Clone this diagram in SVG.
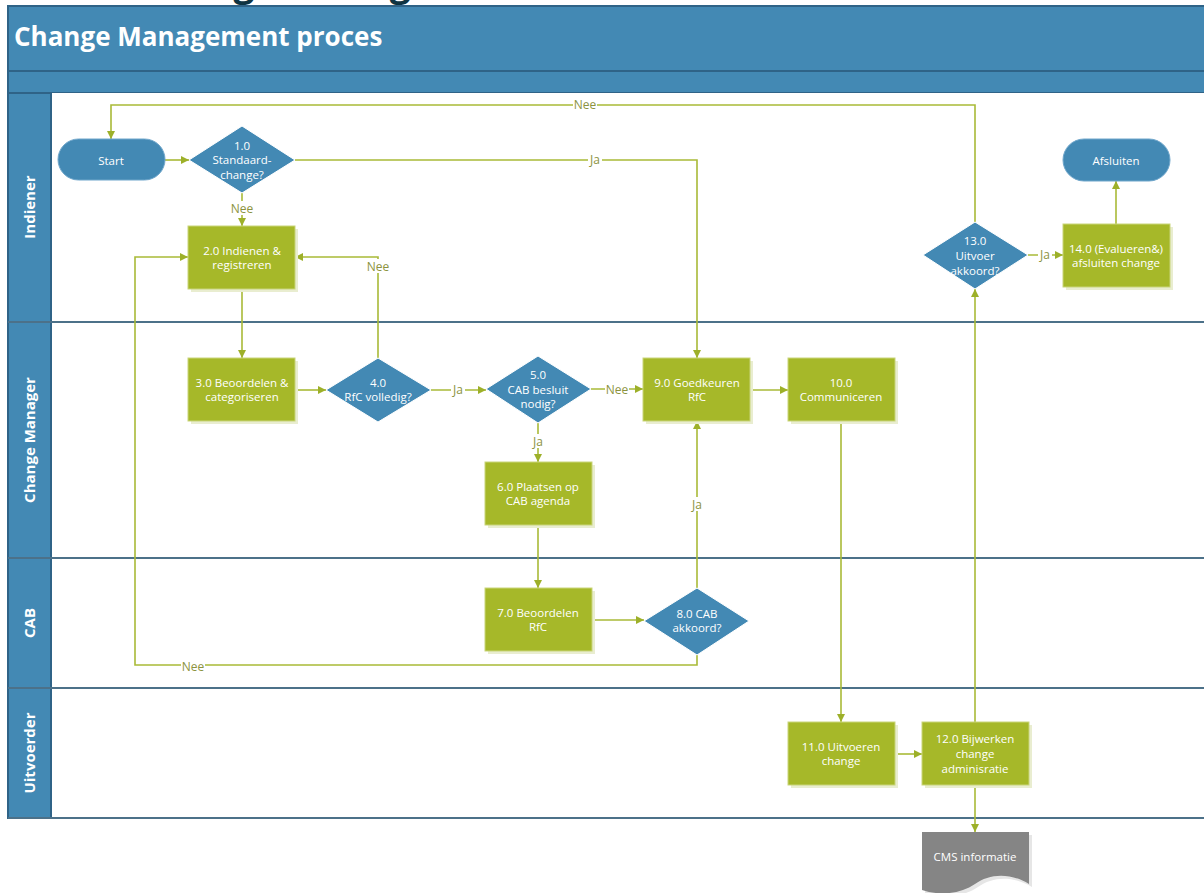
<svg xmlns="http://www.w3.org/2000/svg" width="1204" height="893" viewBox="0 0 1204 893">
<style>
.band{fill:#4389B4;stroke:#2F6387;stroke-width:2}
.lane{fill:#ffffff}
.sep{stroke:#4C7189;stroke-width:2}
.title{font-family:"Open Sans","Noto Sans",sans-serif;font-weight:700;font-size:26px;fill:#ffffff}
.lanelbl{font-family:"Open Sans","Noto Sans",sans-serif;font-weight:700;font-size:15px;fill:#ffffff;text-anchor:middle}
.task{fill:#A6B829;stroke:#C9D57A;stroke-width:1}
.shadow{fill:#E9EDD0}
.dec{fill:#4389B4;stroke:#ffffff;stroke-width:1}
.term{fill:#4389B4;stroke:#6FA6CB;stroke-width:1}
.nt{font-family:"Open Sans","Noto Sans",sans-serif;font-size:11.5px;fill:#ffffff;text-anchor:middle;dominant-baseline:central}
.conn{fill:none;stroke:#A9BA37;stroke-width:1.6}
.lbl{font-family:"Open Sans","Noto Sans",sans-serif;font-size:12px;fill:#8C933E;text-anchor:middle;dominant-baseline:central}
.lblbg{fill:#ffffff}
</style>
<defs>
<marker id="arr" viewBox="0 0 10 10" refX="10" refY="5" markerWidth="8" markerHeight="8" markerUnits="userSpaceOnUse" orient="auto">
<path d="M0,0 L10,5 L0,10 Z" fill="#9DB029"/>
</marker>
</defs>
<rect x="0" y="0" width="1204" height="893" fill="#ffffff"/>
<text x="139" y="-4" font-family="Open Sans, Noto Sans, sans-serif" font-weight="700" font-size="37" fill="#0F3442">Change Management</text>
<g id="pool">
<rect class="band" x="8" y="6" width="1200" height="65"/>
<rect class="band" x="8" y="71" width="1200" height="22"/>
<rect class="lane" x="51" y="93" width="1157" height="725"/>
<rect class="band" x="8" y="93" width="43" height="725"/>
<line class="sep" x1="8" y1="322" x2="1204" y2="322"/>
<line class="sep" x1="8" y1="558" x2="1204" y2="558"/>
<line class="sep" x1="8" y1="688" x2="1204" y2="688"/>
<line class="sep" x1="8" y1="818" x2="1204" y2="818"/>
<text class="title" x="14" y="46">Change Management proces</text>
</g>
<g id="lane-labels">
<text class="lanelbl" transform="translate(35,207) rotate(-90)">Indiener</text>
<text class="lanelbl" transform="translate(35,440) rotate(-90)">Change Manager</text>
<text class="lanelbl" transform="translate(35,623) rotate(-90)">CAB</text>
<text class="lanelbl" transform="translate(35,753) rotate(-90)">Uitvoerder</text>
</g>
<g id="connectors">
<path class="conn" d="M165,160 H189" marker-end="url(#arr)"/>
<path class="conn" d="M242,193 V226" marker-end="url(#arr)"/>
<path class="conn" d="M295,160 H697 V358" marker-end="url(#arr)"/>
<path class="conn" d="M242,289 V358" marker-end="url(#arr)"/>
<path class="conn" d="M295,390 H326" marker-end="url(#arr)"/>
<path class="conn" d="M378,358 V257 H295" marker-end="url(#arr)"/>
<path class="conn" d="M431,390 H486" marker-end="url(#arr)"/>
<path class="conn" d="M591,389 H643" marker-end="url(#arr)"/>
<path class="conn" d="M538,423 V462" marker-end="url(#arr)"/>
<path class="conn" d="M750,390 H788" marker-end="url(#arr)"/>
<path class="conn" d="M538,525 V588" marker-end="url(#arr)"/>
<path class="conn" d="M592,620 H644" marker-end="url(#arr)"/>
<path class="conn" d="M697,588 V421" marker-end="url(#arr)"/>
<path class="conn" d="M697,655 V665 H135 V257 H188" marker-end="url(#arr)"/>
<path class="conn" d="M841,421 V722" marker-end="url(#arr)"/>
<path class="conn" d="M895,754 H922" marker-end="url(#arr)"/>
<path class="conn" d="M975,785 V832" marker-end="url(#arr)"/>
<path class="conn" d="M975,722 V289" marker-end="url(#arr)"/>
<path class="conn" d="M1028,255 H1063" marker-end="url(#arr)"/>
<path class="conn" d="M1116,224 V181" marker-end="url(#arr)"/>
<path class="conn" d="M975,222 V105 H111 V139" marker-end="url(#arr)"/>
<rect class="lblbg" x="230" y="201" width="24" height="14"/><text class="lbl" x="242" y="208">Nee</text>
<rect class="lblbg" x="588" y="153" width="14" height="14"/><text class="lbl" x="595" y="159">Ja</text>
<rect class="lblbg" x="366" y="259" width="24" height="14"/><text class="lbl" x="378" y="266">Nee</text>
<rect class="lblbg" x="451" y="382" width="14" height="14"/><text class="lbl" x="458" y="389">Ja</text>
<rect class="lblbg" x="605" y="382" width="24" height="14"/><text class="lbl" x="617" y="389">Nee</text>
<rect class="lblbg" x="531" y="434" width="14" height="14"/><text class="lbl" x="538" y="441">Ja</text>
<rect class="lblbg" x="690" y="497" width="14" height="14"/><text class="lbl" x="697" y="504">Ja</text>
<rect class="lblbg" x="181" y="659" width="24" height="14"/><text class="lbl" x="193" y="666">Nee</text>
<rect class="lblbg" x="1038" y="248" width="14" height="14"/><text class="lbl" x="1045" y="254">Ja</text>
<rect class="lblbg" x="573" y="97" width="24" height="14"/><text class="lbl" x="585" y="104">Nee</text>
</g>
<g id="start">
<rect class="term" x="58" y="139" width="107" height="41" rx="20.5"/>
<text class="nt" x="111" y="160">Start</text>
</g>
<g id="n1">
<path class="dec" d="M242,126 L295,160 L242,193 L189,160 Z"/>
<text class="nt" x="242" y="145">1.0</text>
<text class="nt" x="242" y="159">Standaard-</text>
<text class="nt" x="242" y="174">change?</text>
</g>
<g id="n2">
<rect class="shadow" x="191" y="229" width="107" height="63"/>
<rect class="task" x="188" y="226" width="107" height="63"/>
<text class="nt" x="242" y="250">2.0 Indienen &amp;</text>
<text class="nt" x="242" y="264">registreren</text>
</g>
<g id="n3">
<rect class="shadow" x="191" y="361" width="107" height="63"/>
<rect class="task" x="188" y="358" width="107" height="63"/>
<text class="nt" x="242" y="382">3.0 Beoordelen &amp;</text>
<text class="nt" x="242" y="396">categoriseren</text>
</g>
<g id="n4">
<path class="dec" d="M378,358 L431,390 L378,422 L326,390 Z"/>
<text class="nt" x="378" y="382">4.0</text>
<text class="nt" x="378" y="396">RfC volledig?</text>
</g>
<g id="n5">
<path class="dec" d="M538,356 L591,389 L538,423 L486,389 Z"/>
<text class="nt" x="538" y="374">5.0</text>
<text class="nt" x="538" y="389">CAB besluit</text>
<text class="nt" x="538" y="403">nodig?</text>
</g>
<g id="n6">
<rect class="shadow" x="488" y="465" width="107" height="63"/>
<rect class="task" x="485" y="462" width="107" height="63"/>
<text class="nt" x="538" y="486">6.0 Plaatsen op</text>
<text class="nt" x="538" y="500">CAB agenda</text>
</g>
<g id="n7">
<rect class="shadow" x="488" y="591" width="107" height="63"/>
<rect class="task" x="485" y="588" width="107" height="63"/>
<text class="nt" x="538" y="612">7.0 Beoordelen</text>
<text class="nt" x="538" y="626">RfC</text>
</g>
<g id="n8">
<path class="dec" d="M697,588 L749,621 L697,655 L644,621 Z"/>
<text class="nt" x="697" y="613">8.0 CAB</text>
<text class="nt" x="697" y="627">akkoord?</text>
</g>
<g id="n9">
<rect class="shadow" x="646" y="361" width="107" height="63"/>
<rect class="task" x="643" y="358" width="107" height="63"/>
<text class="nt" x="697" y="382">9.0 Goedkeuren</text>
<text class="nt" x="697" y="396">RfC</text>
</g>
<g id="n10">
<rect class="shadow" x="791" y="361" width="107" height="63"/>
<rect class="task" x="788" y="358" width="107" height="63"/>
<text class="nt" x="841" y="382">10.0</text>
<text class="nt" x="841" y="396">Communiceren</text>
</g>
<g id="n11">
<rect class="shadow" x="791" y="725" width="107" height="63"/>
<rect class="task" x="788" y="722" width="107" height="63"/>
<text class="nt" x="841" y="746">11.0 Uitvoeren</text>
<text class="nt" x="841" y="760">change</text>
</g>
<g id="n12">
<rect class="shadow" x="925" y="725" width="107" height="63"/>
<rect class="task" x="922" y="722" width="107" height="63"/>
<text class="nt" x="975" y="738">12.0 Bijwerken</text>
<text class="nt" x="975" y="753">change</text>
<text class="nt" x="975" y="768">adminisratie</text>
</g>
<g id="cms">
<path d="M925,835 H1032 V887 C1012,875 992,877 978,887 C963,897 943,899 925,893 Z" fill="#E6E6E6"/>
<path d="M922,832 H1029 V884 C1009,872 989,874 975,884 C960,894 940,896 922,890 Z" fill="#858585"/>
<text class="nt" x="975" y="856">CMS informatie</text>
</g>
<g id="n13">
<path class="dec" d="M975,222 L1028,255 L975,289 L923,255 Z"/>
<text class="nt" x="975" y="240">13.0</text>
<text class="nt" x="975" y="255">Uitvoer</text>
<text class="nt" x="975" y="270">akkoord?</text>
</g>
<g id="n14">
<rect class="shadow" x="1066" y="227" width="107" height="63"/>
<rect class="task" x="1063" y="224" width="107" height="63"/>
<text class="nt" x="1116" y="248">14.0 (Evalueren&amp;)</text>
<text class="nt" x="1116" y="262">afsluiten change</text>
</g>
<g id="afsluiten">
<rect class="term" x="1063" y="139" width="107" height="42" rx="21"/>
<text class="nt" x="1116" y="160">Afsluiten</text>
</g>
</svg>
